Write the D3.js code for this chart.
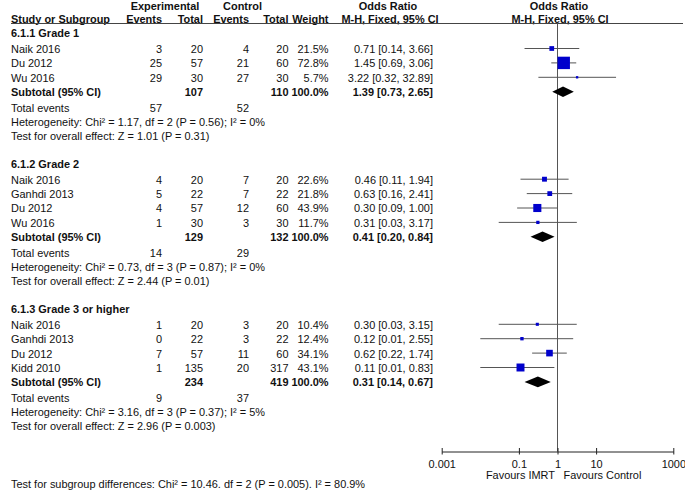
<!DOCTYPE html>
<html>
<head>
<meta charset="utf-8">
<script src="https://cdn.jsdelivr.net/npm/d3@7"></script>
<style>
  html, body { margin: 0; padding: 0; background: #fff; }
  svg { display: block; }
  text { font-family: "Liberation Sans", Arial, sans-serif; font-size: 10.95px; fill: #111; }
  .b { font-weight: bold; }
</style>
</head>
<body>
<svg id="chart" width="685" height="492"></svg>
<script>
// ---------------- DATA ----------------
const groupTitles = ["6.1.1 Grade 1", "6.1.2 Grade 2", "6.1.3 Grade 3 or higher"];
const studyNames = ["Naik 2016", "Du 2012", "Wu 2016",
                    "Naik 2016", "Ganhdi 2013", "Du 2012", "Wu 2016",
                    "Naik 2016", "Ganhdi 2013", "Du 2012", "Kidd 2010"];
const studyGroup = [0, 0, 0, 1, 1, 1, 1, 2, 2, 2, 2];
const expEvents = [3, 25, 29, 4, 5, 4, 1, 1, 0, 7, 1];
const expTotal  = [20, 57, 30, 20, 22, 57, 30, 20, 22, 57, 135];
const ctlEvents = [4, 21, 27, 7, 7, 12, 3, 3, 3, 11, 20];
const ctlTotal  = [20, 60, 30, 20, 22, 60, 30, 20, 22, 60, 317];
const weights   = [21.5, 72.8, 5.7, 22.6, 21.8, 43.9, 11.7, 10.4, 12.4, 34.1, 43.1];
const orVals    = [0.71, 1.45, 3.22, 0.46, 0.63, 0.30, 0.31, 0.30, 0.12, 0.62, 0.11];
const ciLow     = [0.14, 0.69, 0.32, 0.11, 0.16, 0.09, 0.03, 0.03, 0.01, 0.22, 0.01];
const ciHigh    = [3.66, 3.06, 32.89, 1.94, 2.41, 1.00, 3.17, 3.15, 2.55, 1.74, 0.83];

const subExpTotal = [107, 129, 234];
const subCtlTotal = [110, 132, 419];
const subOR   = [1.39, 0.41, 0.31];
const subLow  = [0.73, 0.20, 0.14];
const subHigh = [2.65, 0.84, 0.67];
const totExpEvents = [57, 14, 9];
const totCtlEvents = [52, 29, 37];
const heterogeneity = [
  "Heterogeneity: Chi² = 1.17, df = 2 (P = 0.56); I² = 0%",
  "Heterogeneity: Chi² = 0.73, df = 3 (P = 0.87); I² = 0%",
  "Heterogeneity: Chi² = 3.16, df = 3 (P = 0.37); I² = 5%"
];
const overallEffect = [
  "Test for overall effect: Z = 1.01 (P = 0.31)",
  "Test for overall effect: Z = 2.44 (P = 0.01)",
  "Test for overall effect: Z = 2.96 (P = 0.003)"
];
const subgroupDiff = "Test for subgroup differences: Chi² = 10.46. df = 2 (P = 0.005). I² = 80.9%";
const axisTicks = [0.001, 0.1, 1, 10, 1000];
const axisTickLabels = ["0.001", "0.1", "1", "10", "1000"];
const favoursLeft = "Favours IMRT";
const favoursRight = "Favours Control";

// ---------------- LAYOUT ----------------
const svg = d3.select("#chart");
const x = d3.scaleLog().domain([0.001, 1000]).range([441.7, 673.3]);
const sizeScale = d3.scaleLinear().domain([0, 100]).range([1.5, 16.5]);
const TXT = 3.9; // baseline offset from row centre
const col = { study: 11, ee: 162, et: 203, ce: 249, ct: 288.5, w: 328.5, orTxt: 433 };
const axisY = 451.5, headerLine = 23.5;
const fmt = v => v.toFixed(2);

function text(xp, y, s, anchor, cls) {
  const t = svg.append("text").attr("x", xp).attr("y", y + TXT).text(s)
    .attr("text-anchor", anchor || "start");
  if (cls) t.attr("class", cls);
  return t;
}

// Header
text(165, 6.5, "Experimental", "middle", "b");
text(242.5, 6.5, "Control", "middle", "b");
text(388, 6.5, "Odds Ratio", "middle", "b");
text(559, 6.5, "Odds Ratio", "middle", "b");
text(col.study, 19.5, "Study or Subgroup", "start", "b");
text(col.ee, 19.5, "Events", "end", "b");
text(col.et, 19.5, "Total", "end", "b");
text(col.ce, 19.5, "Events", "end", "b");
text(col.ct, 19.5, "Total", "end", "b");
text(col.w, 19.5, "Weight", "end", "b");
text(390, 19.5, "M-H, Fixed, 95% CI", "middle", "b");
text(560, 19.5, "M-H, Fixed, 95% CI", "middle", "b");
svg.append("line").attr("x1", 11).attr("x2", 683).attr("y1", headerLine).attr("y2", headerLine)
  .attr("stroke", "#444").attr("stroke-width", 1);

// Vertical line of no effect
svg.append("line").attr("x1", x(1)).attr("x2", x(1)).attr("y1", headerLine).attr("y2", axisY)
  .attr("stroke", "#555").attr("stroke-width", 1);

// Groups
let y = 33.5;
groupTitles.forEach((g, gi) => {
  text(col.study, y, g, "start", "b");
  y += 15.5;
  studyNames.forEach((name, i) => {
    if (studyGroup[i] !== gi) return;
    text(col.study, y, name);
    text(col.ee, y, expEvents[i], "end");
    text(col.et, y, expTotal[i], "end");
    text(col.ce, y, ctlEvents[i], "end");
    text(col.ct, y, ctlTotal[i], "end");
    text(col.w, y, weights[i].toFixed(1) + "%", "end");
    text(col.orTxt, y, `${fmt(orVals[i])} [${fmt(ciLow[i])}, ${fmt(ciHigh[i])}]`, "end");
    svg.append("line").attr("x1", x(ciLow[i])).attr("x2", x(ciHigh[i]))
      .attr("y1", y - 0.5).attr("y2", y - 0.5).attr("stroke", "#555").attr("stroke-width", 1);
    const s = sizeScale(weights[i]);
    svg.append("rect").attr("x", x(orVals[i]) - s / 2).attr("y", y - 0.5 - s / 2)
      .attr("width", s).attr("height", s).attr("fill", "#0000CC");
    y += 14.4;
  });
  // subtotal
  text(col.study, y, "Subtotal (95% CI)", "start", "b");
  text(col.et, y, subExpTotal[gi], "end", "b");
  text(col.ct, y, subCtlTotal[gi], "end", "b");
  text(col.w, y, "100.0%", "end", "b");
  text(col.orTxt, y, `${fmt(subOR[gi])} [${fmt(subLow[gi])}, ${fmt(subHigh[gi])}]`, "end", "b");
  const dy = y - 0.5, h = 5.3;
  svg.append("path")
    .attr("d", `M${x(subLow[gi])},${dy} L${x(subOR[gi])},${dy - h} L${x(subHigh[gi])},${dy} L${x(subOR[gi])},${dy + h} Z`)
    .attr("fill", "#000");
  y += 15.4;
  text(col.study, y, "Total events");
  text(col.ee, y, totExpEvents[gi], "end");
  text(col.ce, y, totCtlEvents[gi], "end");
  y += 14.3;
  text(col.study, y, heterogeneity[gi]);
  y += 14.3;
  text(col.study, y, overallEffect[gi]);
  y += 28;
});

// Axis
const axis = d3.axisBottom(x).tickValues(axisTicks)
  .tickFormat((d, i) => axisTickLabels[i]).tickSize(3).tickSizeOuter(0).tickPadding(6);
const ag = svg.append("g").attr("transform", `translate(0,${axisY})`).call(axis);
ag.select(".domain").attr("stroke", "#222");
ag.selectAll(".tick line").attr("y1", -3.5).attr("y2", 3).attr("stroke", "#222");
ag.selectAll(".tick text").attr("font-family", "Liberation Sans, Arial, sans-serif")
  .attr("font-size", "10.95px").attr("fill", "#111");

text(x(1) - 2.5, 475, favoursLeft, "end");
text(x(1) + 6, 475, favoursRight, "start");

// Subgroup differences
text(col.study, 484.5, subgroupDiff);
</script>
</body>
</html>
